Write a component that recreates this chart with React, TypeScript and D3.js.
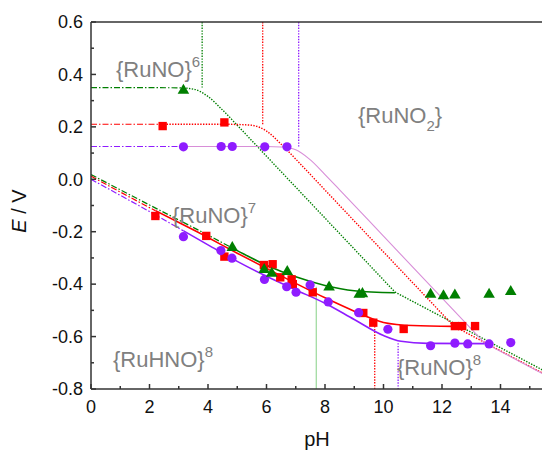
import React from 'react';
import * as d3 from 'd3';

// ---------- data ----------
const xTicksMajor = [0, 2, 4, 6, 8, 10, 12, 14];
const xTicksMinor = [1, 3, 5, 7, 9, 11, 13, 15];
const yTicksMajor = [-0.8, -0.6, -0.4, -0.2, 0.0, 0.2, 0.4, 0.6];
const yTicksMinor = [-0.7, -0.5, -0.3, -0.1, 0.1, 0.3, 0.5];

// measured points [pH, E]
const greenTriangles = [
  [3.16, 0.343], [4.83, -0.257], [5.92, -0.341], [6.18, -0.355], [6.71, -0.349],
  [8.14, -0.408], [9.17, -0.435], [9.28, -0.433], [11.61, -0.435], [12.05, -0.441],
  [12.44, -0.438], [13.61, -0.435], [14.35, -0.425],
];
const redSquares = [
  [2.45, 0.203], [4.56, 0.217],
  [2.2, -0.14], [3.94, -0.216], [4.56, -0.295], [5.91, -0.327], [6.21, -0.324],
  [6.47, -0.374], [6.86, -0.382], [6.9, -0.4], [7.58, -0.431], [9.31, -0.51],
  [9.65, -0.547], [10.69, -0.571], [12.44, -0.56], [12.69, -0.56], [13.13, -0.56],
];
const purpleCircles = [
  [3.16, 0.124], [4.45, 0.125], [4.83, 0.125], [5.94, 0.124], [6.7, 0.124],
  [3.16, -0.219], [4.44, -0.272], [4.82, -0.301], [5.93, -0.382], [6.69, -0.41],
  [7.01, -0.431], [7.49, -0.403], [8.11, -0.468], [9.15, -0.509], [10.15, -0.572],
  [11.61, -0.635], [12.44, -0.625], [12.88, -0.628], [13.61, -0.628], [14.35, -0.623],
];

// fitted curves
const greenUpper = [[0, 0.35], [3, 0.349], [3.5, 0.344], [4, 0.316], [4.5, 0.264], [5, 0.206], [6, 0.088], [8, -0.148], [10.39, -0.43]];
const greenUpperTail = [[10.39, -0.43], [15.6, -0.737]];
const redUpper = [[0, 0.21], [4.5, 0.21], [5, 0.209], [5.5, 0.206], [6, 0.184], [6.5, 0.134], [7, 0.077], [8, -0.041], [10, -0.277], [12.4, -0.56]];
const redUpperTail = [[12.4, -0.56], [15.6, -0.749]];
const purpleUpper = [[0, 0.125], [6, 0.125], [6.5, 0.123], [7, 0.113], [7.5, 0.074], [8, 0.018], [8.5, -0.04], [10, -0.217], [13.46, -0.625]];
const purpleUpperTail = [[13.46, -0.625], [15.6, -0.751]];

const greenLower = [[0, 0.018], [2, -0.098], [4, -0.213], [5, -0.272], [6, -0.328], [7, -0.372], [8, -0.405], [9, -0.425], [10.39, -0.433]];
const redLower = [[0, 0.012], [2, -0.108], [4, -0.222], [5, -0.282], [6, -0.34], [7, -0.397], [8, -0.452], [9, -0.503], [10, -0.546], [11, -0.558], [12.4, -0.561]];
const purpleLower = [[0, 0.0], [2, -0.123], [4, -0.25], [5, -0.313], [6, -0.37], [7, -0.422], [8, -0.473], [9, -0.535], [10, -0.596], [10.6, -0.618], [11.5, -0.626], [13.46, -0.627]];

// pH where extrapolated (dash-dot) part ends
const upperSplits = [3.16, 2.45, 3.16]; // green, red, purple
const lowerSplits = [4.83, 2.2, 3.16];

// vertical boundaries [pH, Efrom, Eto]
const upperVerticals = [[3.8, 0.6, 0.35], [5.87, 0.6, 0.21], [7.1, 0.6, 0.125]];
const lowerVerticals = [[7.7, -0.41, -0.8], [9.7, -0.56, -0.8], [10.5, -0.625, -0.8]];

const labels = [
  { main: '{RuNO}', sup: '6', x: 0, y: 0 },
];

// ---------- component ----------
const W = 542, H = 451;
const GREEN = '#007f00';
const RED = '#ff0000';
const PURPLE = '#8f1cff';
const PLUM = '#d88ed8';
const LIGHTGREEN = '#86d086';
const GRAY = '#808080';
const AXIS = '#333333';
const FONT = "'Liberation Sans', Arial, sans-serif";

const DASHDOT = '6,2,1.5,2';
const DOT = '1.4,1.4';

export default function App() {
  const x = d3.scaleLinear().domain([0, 15.5]).range([91, 91 + 15.5 * 29.25]);
  const y = d3.scaleLinear().domain([-0.8, 0.6]).range([389, 22]);
  const line = d3.line<number[]>().x(d => x(d[0])).y(d => y(d[1])).curve(d3.curveMonotoneX);
  const straight = d3.line<number[]>().x(d => x(d[0])).y(d => y(d[1]));

  const triangle = d3.symbol().type(d3.symbolTriangle).size(58)();
  const square = d3.symbol().type(d3.symbolSquare).size(70)();

  const colors = [GREEN, RED, PURPLE];
  const uppers = [greenUpper, redUpper, purpleUpper];
  const upperTails = [greenUpperTail, redUpperTail, purpleUpperTail];
  const lowers = [greenLower, redLower, purpleLower];

  const x0 = x(0), xEnd = W + 10;
  const yTop = y(0.6), yBot = y(-0.8);

  return (
    <svg width={W} height={H} style={{ position: 'absolute', left: 0, top: 0, background: '#fff' }} fontFamily={FONT}>
      <defs>
        <clipPath id="plot"><rect x={x0} y={yTop} width={xEnd - x0} height={yBot - yTop} /></clipPath>
        {[0, 1, 2].map(i => (
          <React.Fragment key={i}>
            <clipPath id={`ua${i}`}><rect x={x0} y={yTop} width={x(upperSplits[i]) - x0} height={yBot - yTop} /></clipPath>
            <clipPath id={`ub${i}`}><rect x={x(upperSplits[i])} y={yTop} width={xEnd - x(upperSplits[i])} height={yBot - yTop} /></clipPath>
            <clipPath id={`la${i}`}><rect x={x0} y={yTop} width={x(lowerSplits[i]) - x0} height={yBot - yTop} /></clipPath>
            <clipPath id={`lb${i}`}><rect x={x(lowerSplits[i])} y={yTop} width={xEnd - x(lowerSplits[i])} height={yBot - yTop} /></clipPath>
          </React.Fragment>
        ))}
      </defs>

      <g clipPath="url(#plot)">
        {/* vertical boundaries */}
        {upperVerticals.map((v, i) => (
          <line key={'uv' + i} x1={x(v[0])} x2={x(v[0])} y1={y(v[1])} y2={y(v[2])}
            stroke={colors[i]} strokeWidth={1.3} strokeDasharray={DOT} />
        ))}
        {lowerVerticals.map((v, i) => (
          <line key={'lv' + i} x1={x(v[0])} x2={x(v[0])} y1={y(v[1])} y2={y(v[2])}
            stroke={i === 0 ? LIGHTGREEN : colors[i]} strokeWidth={i === 0 ? 1 : 1.3}
            strokeDasharray={i === 0 ? undefined : DOT} />
        ))}

        {/* upper curves */}
        {uppers.map((pts, i) => (
          <React.Fragment key={'u' + i}>
            <path d={line(pts) || ''} fill="none" stroke={colors[i]} strokeWidth={1.2} strokeDasharray={DASHDOT} clipPath={`url(#ua${i})`} />
            <path d={line(pts) || ''} fill="none" stroke={i === 2 ? PLUM : colors[i]}
              strokeWidth={i === 2 ? 1.1 : 1.4} strokeDasharray={i === 2 ? undefined : DOT} clipPath={`url(#ub${i})`} />
            <path d={straight(upperTails[i]) || ''} fill="none" stroke={i === 2 ? PLUM : colors[i]}
              strokeWidth={i === 2 ? 1.1 : 1.4} strokeDasharray={i === 2 ? undefined : DOT} />
          </React.Fragment>
        ))}

        {/* lower curves */}
        {lowers.map((pts, i) => (
          <React.Fragment key={'l' + i}>
            <path d={line(pts) || ''} fill="none" stroke={colors[i]} strokeWidth={1.2} strokeDasharray={DASHDOT} clipPath={`url(#la${i})`} />
            <path d={line(pts) || ''} fill="none" stroke={colors[i]} strokeWidth={1.6} clipPath={`url(#lb${i})`} />
          </React.Fragment>
        ))}

        {/* markers */}
        {redSquares.map((d, i) => (
          <path key={'s' + i} d={square || ''} transform={`translate(${x(d[0])},${y(d[1])})`} fill={RED} />
        ))}
        {purpleCircles.map((d, i) => (
          <circle key={'c' + i} cx={x(d[0])} cy={y(d[1])} r={4.6} fill={PURPLE} />
        ))}
        {greenTriangles.map((d, i) => (
          <path key={'t' + i} d={triangle || ''} transform={`translate(${x(d[0])},${y(d[1]) + 1})`} fill={GREEN} />
        ))}
      </g>

      {/* region labels */}
      <g fill={GRAY} fontSize={22}>
        <text x={116} y={77}>{'{RuNO}'}<tspan fontSize={15} dy={-10}>6</tspan></text>
        <text x={358} y={123}>{'{RuNO'}<tspan fontSize={15} dy={8}>2</tspan><tspan dy={-8}>{'}'}</tspan></text>
        <text x={172} y={223}>{'{RuNO}'}<tspan fontSize={15} dy={-10}>7</tspan></text>
        <text x={113} y={367}>{'{RuHNO}'}<tspan fontSize={15} dy={-10}>8</tspan></text>
        <text x={397} y={375}>{'{RuNO}'}<tspan fontSize={15} dy={-10}>8</tspan></text>
      </g>

      {/* axes frame */}
      <g stroke={AXIS} strokeWidth={1.5} fill="none">
        <line x1={x0} x2={x0} y1={yTop} y2={yBot} />
        <line x1={x0} x2={xEnd} y1={yBot} y2={yBot} />
        <line x1={x0} x2={xEnd} y1={yTop} y2={yTop} />
        {yTicksMajor.map(t => <line key={'ym' + t} x1={x0} x2={x0 + 5} y1={y(t)} y2={y(t)} />)}
        {yTicksMinor.map(t => <line key={'yn' + t} x1={x0} x2={x0 + 3} y1={y(t)} y2={y(t)} />)}
        {xTicksMajor.map(t => <line key={'xm' + t} x1={x(t)} x2={x(t)} y1={yBot} y2={yBot - 5} />)}
        {xTicksMinor.map(t => <line key={'xn' + t} x1={x(t)} x2={x(t)} y1={yBot} y2={yBot - 3} />)}
      </g>

      {/* tick labels */}
      <g fontSize={18} fill="#111">
        {yTicksMajor.map(t => (
          <text key={'yl' + t} x={83} y={y(t)} dy="0.35em" textAnchor="end">{d3.format('.1f')(t).replace('−', '-')}</text>
        ))}
        {xTicksMajor.map(t => (
          <text key={'xl' + t} x={x(t)} y={413} textAnchor="middle">{t}</text>
        ))}
      </g>

      {/* axis titles */}
      <text transform="translate(26,211) rotate(-90)" textAnchor="middle" fontSize={20} fill="#111">
        <tspan fontStyle="italic">E</tspan> / V
      </text>
      <text x={317} y={446} textAnchor="middle" fontSize={20} fill="#111">pH</text>
    </svg>
  );
}
